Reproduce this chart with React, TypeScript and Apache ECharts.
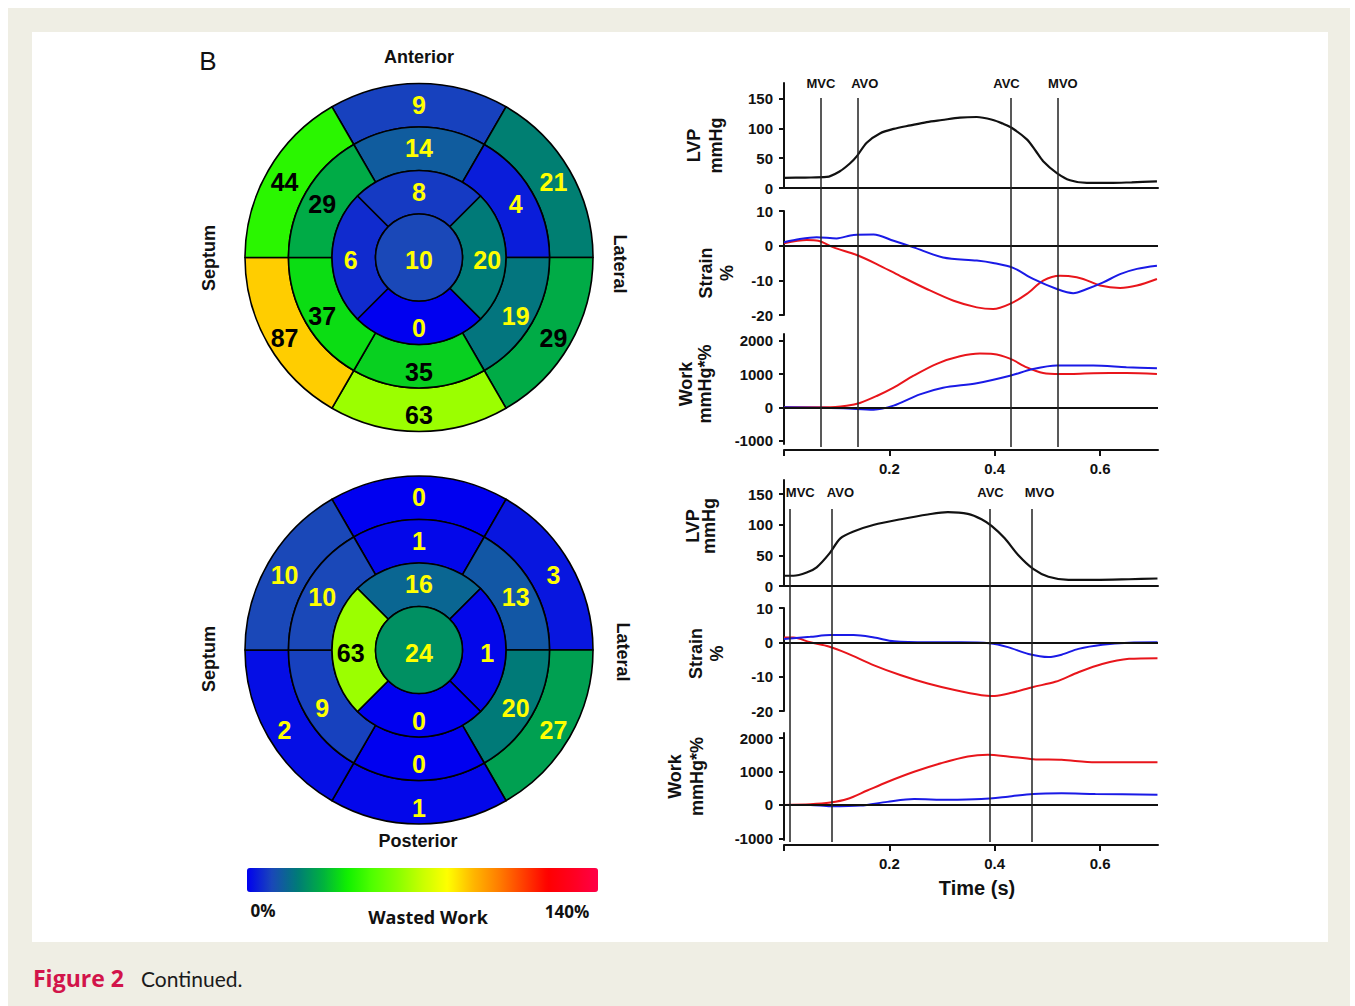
import React, { useEffect, useRef } from "react";
import * as echarts from "echarts";

const FONT = "'Liberation Sans', Arial, sans-serif";
const FONT2 = "'Open Sans', 'Noto Sans', sans-serif";

// ---- Bull's-eye wasted work (%), clockwise starting at the anterior segment ----
const topBasal = [9, 21, 29, 63, 87, 44];
const topMid = [14, 4, 19, 35, 37, 29];
const topApical = [8, 20, 0, 6];
const topApex = [10];
const botBasal = [0, 3, 27, 1, 2, 10];
const botMid = [1, 13, 20, 0, 9, 10];
const botApical = [16, 1, 0, 63];
const botApex = [24];

const scaleMin = 0;
const scaleMax = 140;
const scaleColors = [
  "#0000f0", "#1a48b8", "#007a78", "#00b040", "#10f000", "#50ff00", "#88ff00", "#c8ff00",
  "#ffff00", "#ffb800", "#ff8000", "#ff4000", "#ff0000", "#ff0020", "#ff0048",
];
const darkTextFrom = 28;

// ---- valve events (s) ----
const eventNames = ["MVC", "AVO", "AVC", "MVO"];
const eventsTop = [0.065, 0.138, 0.432, 0.518];
const eventsBot = [0.015, 0.085, 0.39, 0.47];

// ---- axes ----
const timeMax = 0.71;
const timeTicks = [0, 0.2, 0.4, 0.6];
const timeLabels = [0.2, 0.4, 0.6];
const lvpTicks = [0, 50, 100, 150];
const strainTicks = [-20, -10, 0, 10];
const workTicks = [-1000, 0, 1000, 2000];

// ---- top patient curves ----
const lvpTopT = [0, 0.04, 0.081, 0.106, 0.125, 0.138, 0.157, 0.182, 0.208, 0.24, 0.271, 0.3, 0.334, 0.366, 0.397, 0.415, 0.432, 0.461, 0.478, 0.492, 0.518, 0.543, 0.575, 0.619, 0.66, 0.708];
const lvpTopV = [17, 17.5, 18.5, 28, 41, 53, 76, 91.5, 99, 105, 110.5, 114, 118, 119, 114, 108, 101, 81.5, 62, 45, 25, 13, 8.5, 8.5, 9.5, 11];

const strainTopBlueT = [0, 0.03, 0.062, 0.1, 0.132, 0.17, 0.208, 0.246, 0.302, 0.366, 0.397, 0.435, 0.473, 0.518, 0.549, 0.575, 0.606, 0.638, 0.67, 0.708];
const strainTopBlueV = [1.0, 1.9, 2.4, 2.1, 3.1, 3.2, 1.4, -0.5, -3.4, -4.3, -5.0, -6.4, -9.6, -12.5, -13.7, -12.5, -10.6, -8.2, -6.7, -5.8];
const strainTopRedT = [0, 0.043, 0.065, 0.094, 0.138, 0.176, 0.22, 0.271, 0.322, 0.366, 0.397, 0.429, 0.461, 0.492, 0.524, 0.543, 0.568, 0.6, 0.638, 0.67, 0.708];
const strainTopRedV = [0.7, 1.6, 1.4, -0.5, -2.7, -5.3, -8.7, -12.5, -15.9, -17.8, -18.3, -16.8, -13.9, -10.1, -8.7, -8.8, -9.6, -11.5, -12.2, -11.5, -9.6];

const workTopRedT = [0, 0.081, 0.119, 0.144, 0.176, 0.208, 0.246, 0.29, 0.334, 0.372, 0.397, 0.429, 0.461, 0.492, 0.524, 0.587, 0.65, 0.708];
const workTopRedV = [0, 0, 50, 130, 340, 590, 950, 1306, 1530, 1612, 1600, 1460, 1200, 1030, 1000, 1020, 1030, 1000];
const workTopBlueT = [0, 0.113, 0.17, 0.208, 0.258, 0.302, 0.366, 0.429, 0.473, 0.518, 0.587, 0.65, 0.708];
const workTopBlueV = [0, -30, -70, 50, 390, 590, 725, 950, 1150, 1255, 1255, 1204, 1173];

// ---- bottom patient curves ----
const lvpBotT = [0, 0.018, 0.043, 0.062, 0.086, 0.107, 0.132, 0.171, 0.222, 0.273, 0.311, 0.349, 0.375, 0.394, 0.419, 0.445, 0.473, 0.502, 0.54, 0.591, 0.655, 0.709];
const lvpBotV = [16.7, 16.7, 22, 30.5, 52.8, 77.8, 89, 100, 109, 116.7, 120.5, 117.8, 109, 98, 77.8, 50, 27.8, 15, 10, 10, 11, 12.2];

const strainBotBlueT = [0, 0.05, 0.088, 0.132, 0.171, 0.209, 0.273, 0.336, 0.39, 0.425, 0.464, 0.502, 0.527, 0.559, 0.604, 0.655, 0.709];
const strainBotBlueV = [1.0, 1.6, 2.1, 2.1, 1.4, 0.3, 0, 0, -0.3, -1.4, -3.4, -4.3, -3.6, -1.9, -0.7, -0.1, 0];
const strainBotRedT = [0, 0.018, 0.05, 0.085, 0.12, 0.171, 0.222, 0.273, 0.324, 0.375, 0.4, 0.432, 0.473, 0.515, 0.559, 0.604, 0.655, 0.709];
const strainBotRedV = [1.4, 1.4, 0, -1.2, -3.2, -6.7, -9.6, -12, -13.9, -15.4, -15.6, -14.7, -13, -11.5, -8.7, -6.3, -4.8, -4.6];

const workBotRedT = [0, 0.05, 0.088, 0.12, 0.158, 0.196, 0.247, 0.298, 0.349, 0.387, 0.425, 0.473, 0.527, 0.591, 0.655, 0.709];
const workBotRedV = [0, 20, 70, 175, 430, 685, 990, 1245, 1450, 1500, 1450, 1367, 1347, 1276, 1276, 1276];
const workBotBlueT = [0, 0.05, 0.088, 0.145, 0.196, 0.247, 0.311, 0.375, 0.425, 0.473, 0.527, 0.591, 0.709];
const workBotBlueV = [0, 0, -40, -20, 90, 173, 153, 173, 245, 327, 347, 327, 306];

// ---------------------------------------------------------------------------
const RED = "#e8151b";
const BLUE = "#1a1ae6";
const INK = "#111";

const zip = (t: number[], v: number[]) => t.map((x, i) => [x, v[i]]);

// colour of a wasted-work value on the same scale as the colour bar
const hexToRgb = (h: string) => [1, 3, 5].map((i) => parseInt(h.slice(i, i + 2), 16));
function scaleColor(v: number) {
  const f = Math.max(0, Math.min(1, (v - scaleMin) / (scaleMax - scaleMin))) * (scaleColors.length - 1);
  const i = Math.min(Math.floor(f), scaleColors.length - 2);
  const t = f - i;
  const a = hexToRgb(scaleColors[i]);
  const b = hexToRgb(scaleColors[i + 1]);
  const c = a.map((x, k) => Math.round(x + (b[k] - x) * t));
  return `rgb(${c[0]},${c[1]},${c[2]})`;
}

const PLOT_LEFT = 784;
const PLOT_W = 374;
const grid = (top: number, height: number) => ({
  left: PLOT_LEFT, width: PLOT_W, top, height, outerBoundsMode: "none", containLabel: false,
});

const tickFont = { fontFamily: FONT, fontWeight: "bold", fontSize: 15, color: INK };

const yAxis = (gridIndex: number, min: number, max: number, ticks: number[], name: string, nameGap: number, shift: number, lh: number) => ({
  type: "value", gridIndex, min, max,
  axisLine: { show: true, onZero: false, lineStyle: { color: INK, width: 2 } },
  axisTick: { show: true, inside: false, length: 5, lineStyle: { color: INK, width: 2 }, customValues: ticks },
  axisLabel: { ...tickFont, margin: 11, customValues: ticks, formatter: (v: number) => String(v) },
  splitLine: { show: false },
  name, nameLocation: "middle", nameRotate: 90, nameGap,
  nameTextStyle: {
    fontFamily: FONT, fontWeight: "bold", fontSize: 18, color: INK, lineHeight: lh,
    padding: shift >= 0 ? [0, 2 * shift, 0, 0] : [0, 0, 0, -2 * shift],
  },
});

const hiddenX = (gridIndex: number, lineShow: boolean) => ({
  type: "value", gridIndex, min: 0, max: timeMax,
  axisLine: { show: lineShow, onZero: false, lineStyle: { color: INK, width: 2 } },
  axisTick: { show: false }, axisLabel: { show: false }, splitLine: { show: false },
});

const timeX = (gridIndex: number, offset: number, withName: boolean) => ({
  type: "value", gridIndex, min: 0, max: timeMax, position: "bottom", offset,
  axisLine: { show: true, onZero: false, lineStyle: { color: INK, width: 2 } },
  axisTick: { show: true, length: 6, lineStyle: { color: INK, width: 2 }, customValues: timeTicks },
  axisLabel: { ...tickFont, margin: 11, customValues: timeLabels },
  splitLine: { show: false },
  ...(withName
    ? {
        name: "Time (s)", nameLocation: "middle", nameGap: 33,
        nameTextStyle: { fontFamily: FONT, fontWeight: "bold", fontSize: 20, color: INK, padding: [0, 0, 0, 12] },
      }
    : {}),
});

const overlayX = (gridIndex: number) => ({ type: "value", gridIndex, min: 0, max: timeMax, show: false });
const overlayY = (gridIndex: number) => ({ type: "value", gridIndex, min: 0, max: 1, show: false });

const curve = (idx: number, t: number[], v: number[], color: string, width = 2, extra: any = {}) => ({
  type: "line", xAxisIndex: idx, yAxisIndex: idx, data: zip(t, v),
  smooth: 0.3, showSymbol: false, symbol: "none", silent: true, z: 3,
  lineStyle: { color, width }, itemStyle: { color }, ...extra,
});

const zeroLine = {
  silent: true, symbol: ["none", "none"], label: { show: false },
  lineStyle: { color: INK, width: 2, type: "solid" }, data: [{ yAxis: 0 }],
};

const eventLines = (idx: number, times: number[], shifts: number[], dist: number) => ({
  type: "line", xAxisIndex: idx, yAxisIndex: idx, data: [[0, -1]], showSymbol: false, symbol: "none",
  lineStyle: { opacity: 0 }, silent: true, z: 2,
  markLine: {
    silent: true, symbol: ["none", "none"],
    lineStyle: { color: "#222", width: 1.5, type: "solid" },
    label: { show: true, position: "end", distance: dist, fontFamily: FONT, fontWeight: "bold", fontSize: 13, color: INK },
    data: times.map((t, i) => ({
      xAxis: t,
      label: {
        formatter: eventNames[i],
        padding: shifts[i] >= 0 ? [0, 0, 0, 2 * shifts[i]] : [0, -2 * shifts[i], 0, 0],
      },
    })),
  },
});

// equal-angle segments; the wasted-work value sets colour and label
const ringFont = { fontFamily: FONT, fontWeight: "bold", fontSize: 25, padding: [5, 0, 0, 0] };
const ring = (center: number[], r0: number, r1: number, values: number[], startAngle: number, pos = "inside") => ({
  type: "pie", center, radius: [r0, r1], startAngle, clockwise: true, silent: true,
  avoidLabelOverlap: false, z: 2,
  itemStyle: { borderColor: "#000", borderWidth: 1.6 },
  label: {
    show: true, position: pos,
    formatter: (p: any) => (Number(p.name) >= darkTextFrom ? `{d|${p.name}}` : `{l|${p.name}}`),
    rich: { d: { ...ringFont, color: "#000" }, l: { ...ringFont, color: "#ffff00" } },
  },
  labelLine: { show: false },
  emphasis: { disabled: true },
  data: values.map((v) => ({ value: 1, name: String(v), itemStyle: { color: scaleColor(v) } })),
});

const R = [43.5, 87, 130.5, 174];
const bullseye = (center: number[], basal: number[], mid: number[], apical: number[], apex: number[]) => [
  ring(center, R[2], R[3], basal, 120),
  ring(center, R[1], R[2], mid, 120),
  ring(center, R[0], R[1], apical, 135),
  ring(center, 0, R[0], apex, 90, "center"),
];

const label = (text: string, x: number, y: number, size: number, extra: any = {}) => ({
  type: "text", x, y, z: 20, silent: true,
  style: { text, fontFamily: FONT, fontWeight: "bold", fontSize: size, fill: INK, align: "center", verticalAlign: "middle", ...extra.style },
  ...(extra.rotation != null ? { rotation: extra.rotation } : {}),
});

function buildOption() {
  const topC = [419, 257.5];
  const botC = [419, 650];
  const pies = [
    ...bullseye(topC, topBasal, topMid, topApical, topApex),
    ...bullseye(botC, botBasal, botMid, botApical, botApex),
  ];

  return {
    animation: false,
    backgroundColor: "#ffffff",
    grid: [
      grid(83, 105), grid(211, 104), grid(334, 110), grid(98, 349),
      grid(480, 106), grid(608, 103), grid(733, 107), grid(509, 333),
    ],
    xAxis: [
      hiddenX(0, true), hiddenX(1, false), timeX(2, 6, false), overlayX(3),
      hiddenX(4, true), hiddenX(5, false), timeX(6, 5, true), overlayX(7),
    ],
    yAxis: [
      yAxis(0, 0, 176, lvpTicks, "LVP\nmmHg", 57, 10, 22),
      yAxis(1, -20, 10, strainTicks, "Strain\n%", 47, 10, 21),
      yAxis(2, -1100, 2200, workTicks, "Work\nmmHg*%", 70, -5, 19),
      overlayY(3),
      yAxis(4, 0, 173, lvpTicks, "LVP\nmmHg", 67, -7, 16),
      yAxis(5, -20, 10, strainTicks, "Strain\n%", 57, -6, 21),
      yAxis(6, -1050, 2150, workTicks, "Work\nmmHg*%", 76, -10, 22),
      overlayY(7),
    ],
    visualMap: {
      type: "continuous", min: scaleMin, max: scaleMax, seriesIndex: [],
      orient: "horizontal", left: 247, top: 868, itemWidth: 24, itemHeight: 351,
      calculable: false, hoverLink: false, padding: 0, showLabel: false,
      inRange: { color: scaleColors },
    },
    series: [
      ...pies,
      // top patient
      curve(0, lvpTopT, lvpTopV, INK, 2.2),
      curve(1, strainTopRedT, strainTopRedV, RED, 2, { markLine: zeroLine }),
      curve(1, strainTopBlueT, strainTopBlueV, BLUE),
      curve(2, workTopRedT, workTopRedV, RED, 2, { markLine: zeroLine }),
      curve(2, workTopBlueT, workTopBlueV, BLUE),
      eventLines(3, eventsTop, [0, 7, -4, 5], 8),
      // bottom patient
      curve(4, lvpBotT, lvpBotV, INK, 2.2),
      curve(5, strainBotRedT, strainBotRedV, RED, 2, { markLine: zeroLine }),
      curve(5, strainBotBlueT, strainBotBlueV, BLUE),
      curve(6, workBotRedT, workBotRedV, RED, 2, { markLine: zeroLine }),
      curve(6, workBotBlueT, workBotBlueV, BLUE),
      eventLines(7, eventsBot, [11, 9, 1, 8], 10),
    ],
    graphic: {
      elements: [
        { type: "rect", z: -10, silent: true, shape: { x: 8, y: 8, width: 1342, height: 998 }, style: { fill: "#efeee4" } },
        { type: "rect", z: -9, silent: true, shape: { x: 32, y: 32, width: 1296, height: 910 }, style: { fill: "#ffffff" } },
        label("B", 208, 61, 26, { style: { fontWeight: "normal" } }),
        label("Anterior", 419, 57, 18),
        label("Septum", 209, 258, 18, { rotation: Math.PI / 2 }),
        label("Lateral", 620, 264, 18, { rotation: -Math.PI / 2 }),
        label("Septum", 209, 659, 18, { rotation: Math.PI / 2 }),
        label("Lateral", 623, 652, 18, { rotation: -Math.PI / 2 }),
        label("Posterior", 418, 841, 18),
        label("0%", 263, 910, 17, { style: { fontFamily: FONT2 } }),
        label("Wasted Work", 428, 917, 18, { style: { fontFamily: FONT2 } }),
        label("140%", 567, 911, 17, { style: { fontFamily: FONT2 } }),
        {
          type: "text", x: 33, y: 978, z: 20, silent: true,
          style: { text: "Figure 2", fontFamily: FONT2, fontWeight: "bold", fontSize: 23, fill: "#d2144a", align: "left", verticalAlign: "middle" },
        },
        {
          type: "text", x: 141, y: 978, z: 20, silent: true,
          style: { text: "Continued.", fontFamily: "Lato, 'Open Sans', sans-serif", fontWeight: "normal", fontSize: 21, fill: "#1a1a1a", align: "left", verticalAlign: "middle" },
        },
      ],
    },
  };
}

export default function App() {
  const ref = useRef<HTMLDivElement>(null);
  useEffect(() => {
    if (!ref.current) return;
    const chart = echarts.init(ref.current, null, { renderer: "svg" });
    chart.setOption(buildOption() as any);
    return () => chart.dispose();
  }, []);
  return <div ref={ref} style={{ position: "absolute", left: 0, top: 0, width: 1355, height: 1006 }} />;
}
